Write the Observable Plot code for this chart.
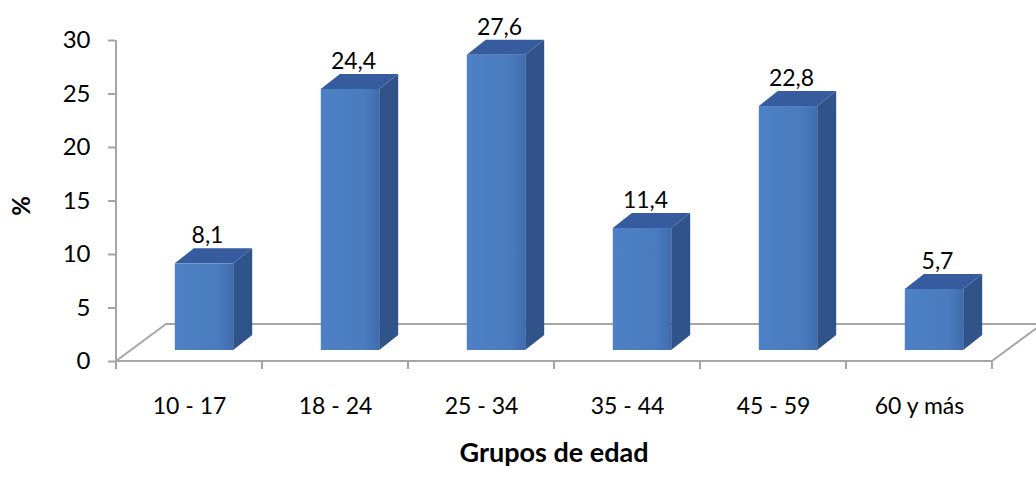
<!DOCTYPE html>
<html>
<head>
<meta charset="utf-8">
<script src="https://cdn.jsdelivr.net/npm/d3@7"></script>
<script src="https://cdn.jsdelivr.net/npm/@observablehq/plot@0.6"></script>
<style>
  html, body { margin: 0; padding: 0; background: #fff; }
  #chart svg { display: block; }
</style>
</head>
<body>
<div id="chart"></div>
<script>
// Distribución por grupos de edad (%)
const grupos = ["10 - 17", "18 - 24", "25 - 34", "35 - 44", "45 - 59", "60 y más"];
const porcentajes = [8.1, 24.4, 27.6, 11.4, 22.8, 5.7];
const yTicks = [0, 5, 10, 15, 20, 25, 30];

const data = grupos.map((grupo, i) => ({grupo, valor: porcentajes[i]}));
const fmt = (v) => v.toFixed(1).replace(".", ",");

const FONT = "Lato, 'Open Sans', sans-serif";
const gray = "#a6a6a6";
const SVGNS = "http://www.w3.org/2000/svg";

// pseudo-3D geometry (pixel offsets of the depth axis)
const floorDepth = {dx: 50, dy: -37};   // depth of the floor plane
const barDepth = {dx: 19, dy: -15};     // depth of each box
const barShift = {dx: 15, dy: -11};     // front face sits slightly behind the front edge
const faceFrac = 0.40;                  // front face width as a fraction of the band

function bandOf(x) {
  return typeof x.bandwidth === "function" ? x.bandwidth() : x.bandwidth;
}

function el(name, attrs) {
  const e = document.createElementNS(SVGNS, name);
  for (const k in attrs) e.setAttribute(k, attrs[k]);
  return e;
}

function poly(points, fill, stroke) {
  return el("polygon", {
    points: points.map(([a, b]) => `${a},${b}`).join(" "),
    fill,
    stroke: stroke || "none",
    "stroke-width": stroke ? 2 : 0,
    "stroke-linejoin": "round"
  });
}

// floor plane, value axis line and category tick marks
function floorMark(index, scales) {
  const {x, y} = scales;
  const bw = bandOf(x);
  const x0 = x(grupos[0]);
  const x1 = x(grupos[grupos.length - 1]) + bw;
  const y0 = y(0);
  const g = el("g", {});
  g.appendChild(poly([
    [x0, y0], [x1, y0],
    [x1 + floorDepth.dx, y0 + floorDepth.dy],
    [x0 + floorDepth.dx, y0 + floorDepth.dy]
  ], "#fff", gray));
  // value axis line
  g.appendChild(el("line", {x1: x0, x2: x0, y1: y(0), y2: y(30), stroke: gray, "stroke-width": 2}));
  // category boundary ticks below the front edge
  for (let i = 0; i <= grupos.length; i++) {
    const xi = i < grupos.length ? x(grupos[i]) : x1;
    g.appendChild(el("line", {x1: xi, x2: xi, y1: y0, y2: y0 + 8, stroke: gray, "stroke-width": 2}));
  }
  return g;
}

// boxes: side face, top face and front face of each bar
function boxMark(index, scales) {
  const {x, y} = scales;
  const bw = bandOf(x);
  const g = el("g", {});
  const defs = el("defs", {});
  defs.innerHTML = `
    <linearGradient id="frontGrad" x1="0" x2="1" y1="0" y2="0">
      <stop offset="0" stop-color="#4e80c5"/>
      <stop offset="0.75" stop-color="#4a7bbf"/>
      <stop offset="1" stop-color="#3f6cae"/>
    </linearGradient>`;
  g.appendChild(defs);
  for (const d of data) {
    const w = bw * faceFrac;
    const xl = x(d.grupo) + (bw - w) / 2 + barShift.dx;
    const xr = xl + w;
    const yb = y(0) + barShift.dy;
    const yt = y(d.valor) + barShift.dy;
    const {dx, dy} = barDepth;
    g.appendChild(poly([[xr, yb], [xr, yt], [xr + dx, yt + dy], [xr + dx, yb + dy]], "#30548a"));
    g.appendChild(poly([[xl, yt], [xr, yt], [xr + dx, yt + dy], [xl + dx, yt + dy]], "#365b9f"));
    g.appendChild(el("rect", {x: xl, y: yt, width: w, height: yb - yt, fill: "url(#frontGrad)"}));
  }
  return g;
}

const plot = Plot.plot({
  width: 1036,
  height: 479,
  marginLeft: 115,
  marginRight: 44,
  marginTop: 40,
  marginBottom: 118,
  style: {fontFamily: FONT, background: "#fff", color: "#000"},
  x: {type: "band", domain: grupos, padding: 0, axis: null},
  y: {domain: [0, 30], axis: null},
  marks: [
    floorMark,
    Plot.axisY({ticks: yTicks, tickSize: 7, stroke: gray, strokeWidth: 2, tickPadding: 18, fontSize: 24, fill: "#000", label: null}),
    Plot.axisX({tickSize: 0, tickPadding: 36, fontSize: 23, fill: "#000", label: null}),
    boxMark,
    Plot.text(data, {
      x: "grupo",
      y: "valor",
      text: d => fmt(d.valor),
      dx: 18,
      dy: -39,
      fontSize: 23,
      lineAnchor: "middle",
      fill: "#000"
    }),
    Plot.text(["Grupos de edad"], {frameAnchor: "bottom", lineAnchor: "middle", textAnchor: "middle", dy: 92, fontSize: 27, fontWeight: "bold", fill: "#000"}),
    Plot.text(["%"], {frameAnchor: "left", lineAnchor: "middle", textAnchor: "middle", dx: -93, dy: 5, rotate: -90, fontSize: 24, fontWeight: "bold", fill: "#000"})
  ]
});

document.getElementById("chart").appendChild(plot);
</script>
</body>
</html>
